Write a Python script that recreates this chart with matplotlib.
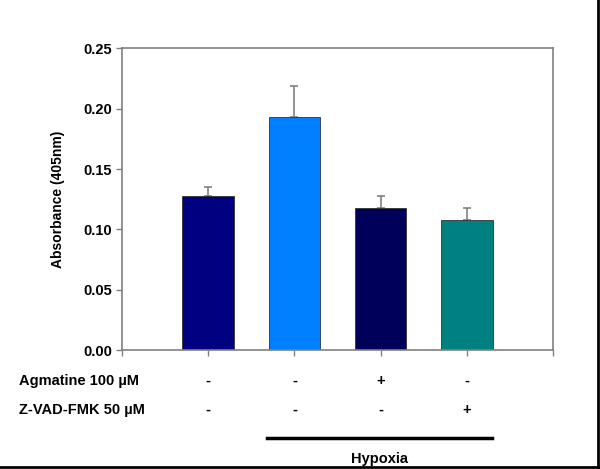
import matplotlib.pyplot as plt
from matplotlib.lines import Line2D

plt.rcParams['font.family'] = ['Liberation Sans', 'DejaVu Sans']
plt.rcParams['font.weight'] = 'bold'

# Data
positions = [1, 2, 3, 4]
values = [0.128, 0.193, 0.118, 0.108]
errors = [0.007, 0.026, 0.010, 0.010]
colors = ['#000080', '#0080ff', '#00005a', '#008080']
agmatine = ['-', '-', '+', '-']
zvad = ['-', '-', '-', '+']
yticks = [0.00, 0.05, 0.10, 0.15, 0.20, 0.25]

fs = 10.5

fig = plt.figure(figsize=(6, 4.69), dpi=100)
ax = fig.add_axes([0.2033, 0.2537, 0.7184, 0.6429])

ax.bar(positions, values, width=0.6, color=colors, edgecolor='#333333', linewidth=0.6, zorder=2)
ax.errorbar(positions, values, yerr=[[0] * 4, errors], fmt='none', ecolor='#808080',
            elinewidth=1.2, capsize=3, capthick=1.2, zorder=1)

ax.set_xlim(0, 5)
ax.set_ylim(0, 0.25)
ax.set_yticks(yticks)
ax.set_yticklabels(['%.2f' % t for t in yticks], fontsize=fs, fontweight='bold')
ax.set_xticks([0, 1, 2, 3, 4, 5])
ax.set_xticklabels([])
for s in ax.spines.values():
    s.set_color('#808080')
    s.set_linewidth(1.2)
ax.tick_params(axis='both', colors='#808080', length=4, width=1.0, labelcolor='black')
ax.tick_params(axis='y', pad=3)

ax.set_ylabel('Absorbance (405nm)', fontsize=10, fontweight='bold')
ax.yaxis.set_label_coords(-0.132, 0.5)

trans = ax.get_xaxis_transform()
for x, a, z in zip(positions, agmatine, zvad):
    ax.text(x, -0.102, a, transform=trans, ha='center', va='center', fontsize=fs, fontweight='bold')
    ax.text(x, -0.199, z, transform=trans, ha='center', va='center', fontsize=fs, fontweight='bold')

fig.text(0.032, 1 - 380.6 / 469, 'Agmatine 100 µM', ha='left', va='center', fontsize=fs, fontweight='bold')
fig.text(0.032, 1 - 410 / 469, 'Z-VAD-FMK 50 µM', ha='left', va='center', fontsize=fs, fontweight='bold')

ax.add_line(Line2D([1.68, 4.29], [-0.292, -0.292], transform=trans, color='black',
                   linewidth=2.5, clip_on=False))
ax.text(2.985, -0.362, 'Hypoxia', transform=trans, ha='center', va='center', fontsize=fs, fontweight='bold')

# border on right and bottom of the image
fig.add_artist(Line2D([0.997, 0.997], [0.0, 1.0], transform=fig.transFigure, color='black', linewidth=2))
fig.add_artist(Line2D([0.0, 1.0], [0.004, 0.004], transform=fig.transFigure, color='black', linewidth=2))

fig.savefig('out.png', dpi=100)
